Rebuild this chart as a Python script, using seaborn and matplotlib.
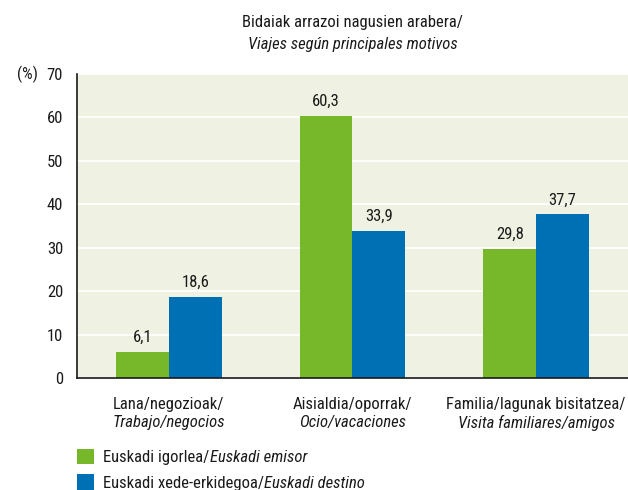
import matplotlib
matplotlib.use("Agg")
import pandas as pd
import matplotlib.pyplot as plt
import matplotlib.transforms as mtransforms
import seaborn as sns
from matplotlib.patches import Patch

# --- data ---
categories_eu = ['Lana/negozioak/', 'Aisialdia/oporrak/', 'Familia/lagunak bisitatzea/']
categories_es = ['Trabajo/negocios', 'Ocio/vacaciones', 'Visita familiares/amigos']
series_eu = ['Euskadi igorlea/', 'Euskadi xede-erkidegoa/']
series_es = ['Euskadi emisor', 'Euskadi destino']
emisor = [6.1, 60.3, 29.8]
destino = [18.6, 33.9, 37.7]
y_ticks = [0, 10, 20, 30, 40, 50, 60, 70]
colors = ['#76B82A', '#0070B5']
TXT = '#1a1a1a'
FS = 12

df = pd.DataFrame({
    'category': categories_eu * 2,
    'serie': [series_eu[0]] * 3 + [series_eu[1]] * 3,
    'value': emisor + destino,
})

sns.set_style('white')
plt.rcParams['font.family'] = ['Roboto Condensed', 'DejaVu Sans']
plt.rcParams['font.size'] = FS

fig = plt.figure(figsize=(6.28, 4.9), dpi=100)
ax = fig.add_axes([77 / 628, 1 - 378 / 490, 551 / 628, 304 / 490])

sns.barplot(data=df, x='category', y='value', hue='serie', order=categories_eu,
            hue_order=series_eu, palette=colors, width=0.576, gap=0,
            saturation=1, linewidth=0, ax=ax)
ax.get_legend().remove()

for cont in ax.containers:
    ax.bar_label(cont, labels=[f"{v:.1f}".replace('.', ',') for v in cont.datavalues],
                 padding=5, fontsize=FS, color=TXT)

ax.set_facecolor('#EFF2E2')
ax.set_xlim(-0.5, 2.5)
ax.set_ylim(0, 70)
ax.set_yticks(y_ticks)
ax.yaxis.grid(True, color='white', linewidth=1.3)
ax.set_axisbelow(True)
for s in ['top', 'right']:
    ax.spines[s].set_visible(False)
for s in ['left', 'bottom']:
    ax.spines[s].set_color(TXT)
    ax.spines[s].set_linewidth(1.2)
ax.tick_params(axis='y', length=6, width=1.2, color=TXT, labelsize=FS, labelcolor=TXT, pad=4)
ax.set_xticks([0, 1, 2])
ax.set_xticklabels([])
ax.tick_params(axis='x', which='major', length=0)
ax.set_xticks([-0.5, 0.5, 1.5, 2.5], minor=True)
ax.tick_params(axis='x', which='minor', length=8, width=1.2, color=TXT)
ax.set_xlabel('')
ax.set_ylabel('')

# category labels: basque / spanish (italic)
xt = ax.get_xaxis_transform()
for i, (eu, es) in enumerate(zip(categories_eu, categories_es)):
    ax.text(i, -0.088, eu, transform=xt, ha='center', va='center', color=TXT)
    ax.text(i, -0.147, es, transform=xt, ha='center', va='center', style='italic', color=TXT)

yt = mtransforms.blended_transform_factory(ax.transAxes, ax.transData)
ax.text(-0.071, 70, '(%)', transform=yt, ha='right', va='center', color=TXT)

cx = (77 + 628) / 2 / 628
fig.text(cx, 1 - 22 / 490, 'Bidaiak arrazoi nagusien arabera/', ha='center', va='center',
         fontsize=FS, color=TXT)
fig.text(cx, 1 - 45 / 490, 'Viajes según principales motivos', ha='center', va='center',
         fontsize=FS, style='italic', color=TXT)

handles = [Patch(facecolor=c, edgecolor='none') for c in colors]
leg = fig.legend(handles, series_eu, loc='upper left', bbox_to_anchor=(77 / 628, 1 - 449 / 490),
                 frameon=False, handlelength=1.03, handleheight=1.03, handletextpad=0.55,
                 labelspacing=0.55, borderpad=0, borderaxespad=0, fontsize=FS)
for t in leg.get_texts():
    t.set_color(TXT)

# append the italic spanish part right after each legend label, on the same baseline
fig.canvas.draw()
renderer = fig.canvas.get_renderer()
inv = fig.transFigure.inverted()
for txt, es in zip(leg.get_texts(), series_es):
    bb = txt.get_window_extent(renderer)
    _, _, descent = renderer.get_text_width_height_descent(
        txt.get_text(), txt.get_fontproperties(), ismath=False)
    x0, y0 = inv.transform((bb.x1, bb.y0 + descent))
    fig.text(x0, y0, es, ha='left', va='baseline', style='italic', fontsize=FS, color=TXT)

fig.savefig('out.png', dpi=100)
